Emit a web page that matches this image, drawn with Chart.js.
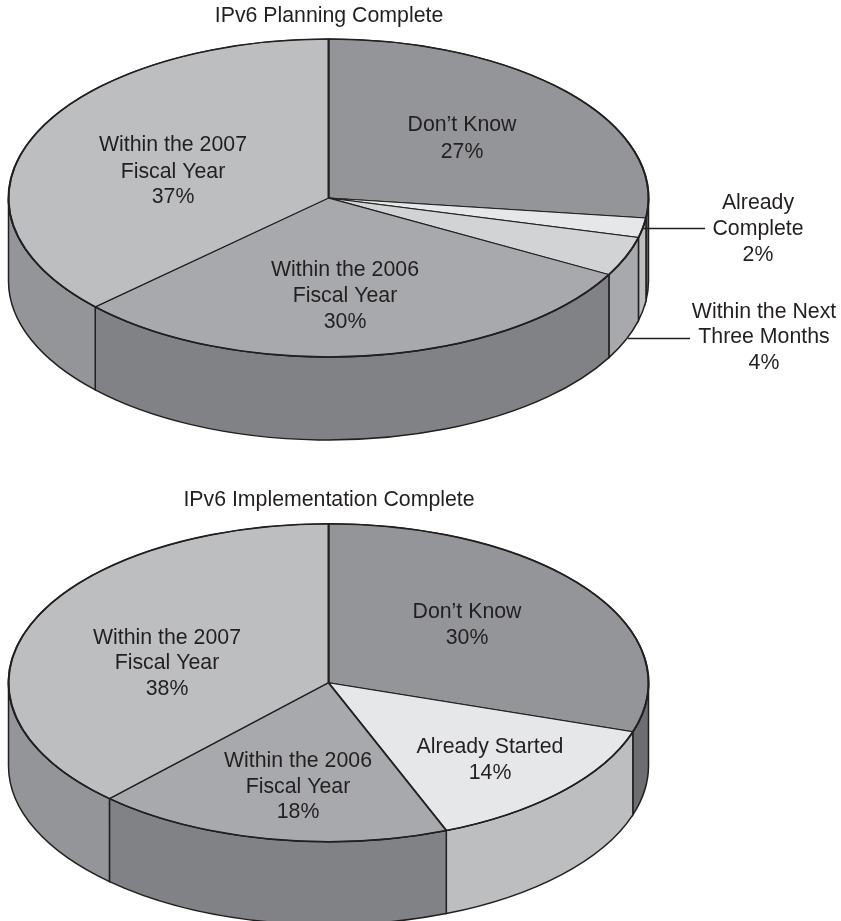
<!DOCTYPE html>
<html>
<head>
<meta charset="utf-8">
<title>IPv6 Complete</title>
<script src="https://cdn.jsdelivr.net/npm/chart.js@4"></script>
<style>
  html, body { margin: 0; padding: 0; background: #fff; overflow: hidden; }
  canvas { display: block; }
</style>
</head>
<body>
<canvas id="planning_chart" width="841" height="460"></canvas>
<canvas id="implementation_chart" width="841" height="461"></canvas>
<script>
// ----planning pie-----
const planningLabels = ["Don\u2019t Know", "Already Complete", "Within the Next Three Months", "Within the 2006 Fiscal Year", "Within the 2007 Fiscal Year"];
const planningValues = [27, 2, 4, 30, 37];
const planningTop = ["#939598", "#e6e7e8", "#d1d3d4", "#a7a9ac", "#bcbec0"];
const planningSide = ["#6d6e71", "#bcbec0", "#a7a9ac", "#808285", "#939598"];

// ----implementation pie-----
const implLabels = ["Don\u2019t Know", "Already Started", "Within the 2006 Fiscal Year", "Within the 2007 Fiscal Year"];
const implValues = [30, 14, 18, 38];
const implTop = ["#939598", "#e6e7e8", "#a7a9ac", "#bcbec0"];
const implSide = ["#6d6e71", "#bcbec0", "#808285", "#939598"];

const INK = "#231f20";
const FONT = '21.3px "Liberation Sans", Arial, sans-serif';
const RX = 320, RY = 159, DEPTH = 83;

// squash the round pie into a disc and give it a side wall
const discPlugin = {
  id: "disc",
  beforeDatasetsDraw(chart, args, opts) {
    const ctx = chart.ctx;
    const arcs = chart.getDatasetMeta(0).data;
    ctx.save();
    ctx.strokeStyle = INK;
    ctx.lineWidth = 1.5;
    arcs.forEach((arc, i) => {
      const s = Math.max(arc.startAngle, 0);
      const e = Math.min(arc.endAngle, Math.PI);
      if (e <= s) return;
      ctx.beginPath();
      ctx.ellipse(opts.cx, opts.cy, RX, RY, 0, s, e);
      ctx.ellipse(opts.cx, opts.cy + DEPTH, RX, RY, 0, e, s, true);
      ctx.closePath();
      ctx.fillStyle = opts.side[i];
      ctx.fill();
      ctx.stroke();
    });
    ctx.restore();

    const c = arcs[0];
    ctx.save();
    ctx.translate(opts.cx, opts.cy);
    ctx.scale(1, RY / RX);
    ctx.translate(-c.x, -c.y);
  },
  afterDatasetsDraw(chart, args, opts) {
    const ctx = chart.ctx;
    ctx.restore();
    ctx.save();
    ctx.strokeStyle = INK;
    ctx.lineWidth = 1.6;
    ctx.beginPath();
    ctx.ellipse(opts.cx, opts.cy, RX, RY, 0, 0, Math.PI * 2);
    ctx.stroke();
    ctx.restore();
  },
  afterDraw(chart, args, opts) {
    const ctx = chart.ctx;
    ctx.save();
    ctx.fillStyle = INK;
    ctx.font = FONT;
    ctx.textAlign = "center";
    ctx.textBaseline = "middle";
    ctx.fillText(opts.title[0], opts.title[1], opts.title[2]);
    opts.labels.forEach(l => {
      const value = chart.data.datasets[0].data[l.index];
      l.lines.concat(value + "%").forEach((t, n) => {
        ctx.fillText(t, l.x, l.ys[n]);
      });
    });
    ctx.strokeStyle = INK;
    ctx.lineWidth = 1.3;
    (opts.leaders || []).forEach(p => {
      ctx.beginPath();
      ctx.moveTo(p[0], p[2] + 0.5);
      ctx.lineTo(p[1], p[2] + 0.5);
      ctx.stroke();
    });
    ctx.restore();
  }
};

function makePie(id, labels, values, colors, disc) {
  return new Chart(id, {
    type: "pie",
    data: {
      labels: labels,
      datasets: [{
        data: values,
        backgroundColor: colors,
        borderColor: INK,
        borderWidth: 2,
        radius: RX,
        clip: false
      }]
    },
    options: {
      responsive: false,
      animation: false,
      events: [],
      plugins: {
        legend: {display: false},
        tooltip: {enabled: false},
        disc: disc
      }
    },
    plugins: [discPlugin]
  });
}

makePie("planning_chart", planningLabels, planningValues, planningTop, {
  cx: 328.5, cy: 198, side: planningSide,
  title: ["IPv6 Planning Complete", 329, 16],
  labels: [
    {index: 0, lines: ["Don\u2019t Know"], x: 462, ys: [125, 152]},
    {index: 1, lines: ["Already", "Complete"], x: 758, ys: [203, 229, 255]},
    {index: 2, lines: ["Within the Next", "Three Months"], x: 764, ys: [312, 337, 363]},
    {index: 3, lines: ["Within the 2006", "Fiscal Year"], x: 345, ys: [270, 296, 322]},
    {index: 4, lines: ["Within the 2007", "Fiscal Year"], x: 173, ys: [145, 172, 197]}
  ],
  leaders: [[643, 705, 228], [628, 690, 338]]
});

makePie("implementation_chart", implLabels, implValues, implTop, {
  cx: 328.5, cy: 222.7, side: implSide,
  title: ["IPv6 Implementation Complete", 329, 40],
  labels: [
    {index: 0, lines: ["Don\u2019t Know"], x: 467, ys: [152, 178]},
    {index: 1, lines: ["Already Started"], x: 490, ys: [287, 313]},
    {index: 2, lines: ["Within the 2006", "Fiscal Year"], x: 298, ys: [301, 327, 352]},
    {index: 3, lines: ["Within the 2007", "Fiscal Year"], x: 167, ys: [178, 203, 229]}
  ]
});
</script>
</body>
</html>
